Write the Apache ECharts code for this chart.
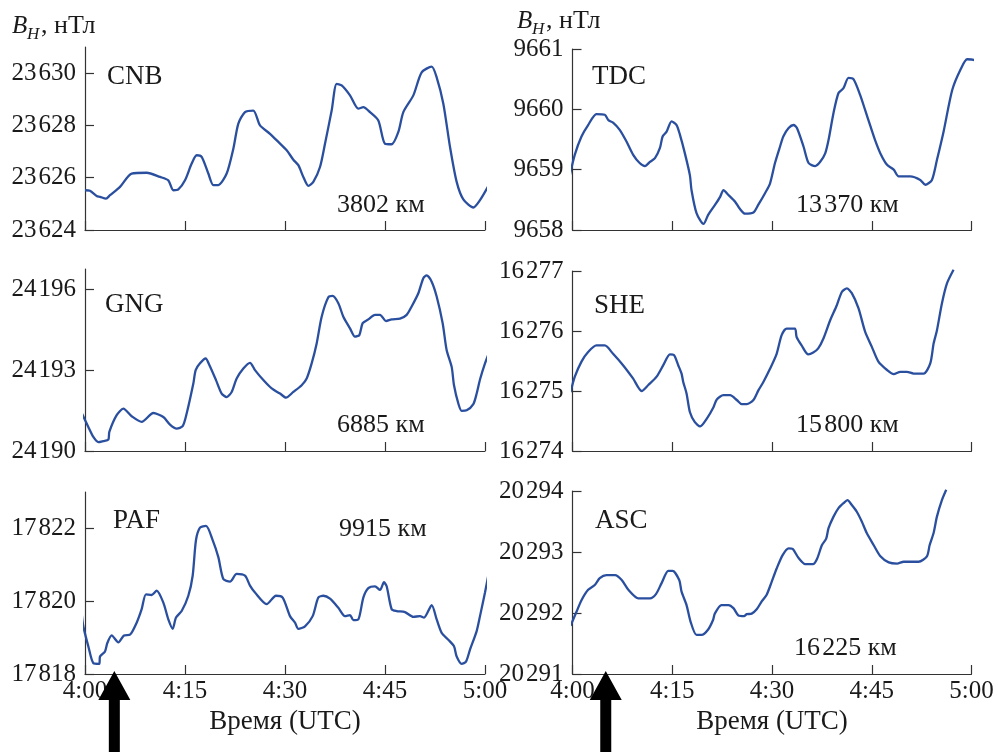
<!DOCTYPE html>
<html><head><meta charset="utf-8">
<script src="https://cdn.jsdelivr.net/npm/echarts@6/dist/echarts.min.js"></script>
<style>html,body{margin:0;padding:0;background:#fff}#c{width:998px;height:754px}</style>
</head><body><div id="c"></div>
<script>
// ---- data (time in minutes after 4:00 UTC, B_H in nT) ----
const xTickValues = [0, 15, 30, 45, 60];
const xTickLabels = ['4:00', '4:15', '4:30', '4:45', '5:00'];
const xAxisName = 'Время (UTC)';
const unitLabel = ', нТл';

const stationNames = ['CNB', 'TDC', 'GNG', 'SHE', 'PAF', 'ASC'];
const distLabels = ['3802 км', '13\u200A370 км', '6885 км', '15\u200A800 км', '9915 км', '16\u200A225 км'];
const arrowTimes = [4.4, 5.0];

const cnbTicks = [23624, 23626, 23628, 23630];
const tdcTicks = [9658, 9659, 9660, 9661];
const gngTicks = [24190, 24193, 24196];
const sheTicks = [16274, 16275, 16276, 16277];
const pafTicks = [17818, 17820, 17822];
const ascTicks = [20291, 20292, 20293, 20294];

const cnbT = [0,0.75,1.75,2.25,3.15,3.75,5.25,7,9.25,11.25,12.5,13.25,14,15,16,16.75,17.5,18.5,19.25,20,21.25,22.25,23,24,25.25,26.25,27.75,29,30.25,31.25,32,32.75,33.5,34.25,35.25,36,37,37.75,38.5,39.75,41,41.75,42.75,44,45,46,47,47.75,49.25,50.5,52,52.75,53.75,54.75,55.75,56.75,58.25,59.25,60.5];
const cnbV = [23625.52,23625.5,23625.3,23625.27,23625.2,23625.33,23625.65,23626.16,23626.19,23626.03,23625.9,23625.52,23625.55,23625.9,23626.54,23626.86,23626.8,23626.16,23625.72,23625.72,23626.16,23627.11,23628.07,23628.51,23628.57,23628.0,23627.68,23627.37,23627.05,23626.69,23626.48,23626.03,23625.69,23625.84,23626.41,23627.3,23628.57,23629.59,23629.53,23629.15,23628.64,23628.7,23628.51,23628.19,23627.3,23627.28,23627.75,23628.51,23629.15,23630.03,23630.25,23629.84,23628.83,23627.18,23625.84,23625.17,23624.86,23625.14,23625.68];

const tdcT = [-0.4,0.35,1.35,2.35,3.6,4.85,5.4,6.1,7.1,8.1,9.1,10.1,10.9,11.65,12.4,13.15,13.55,14.15,14.9,15.65,16.15,16.9,17.65,17.9,18.65,19.7,20.4,21.45,22.2,22.7,23.45,24.45,25.1,25.95,27.2,27.95,28.95,29.7,30.45,31.2,31.7,32.5,33.25,33.75,34.75,35.5,36.5,37.25,38,38.5,39.25,40,40.75,41.5,42.25,43.25,44,44.8,45.5,46.3,47.3,48.3,49.05,50.8,52.3,53.05,54.05,54.8,55.8,57.1,58.35,59.35,60.35,61.35,61.45,61.75];
const tdcV = [9658.91,9659.25,9659.55,9659.74,9659.92,9659.91,9659.82,9659.78,9659.66,9659.47,9659.25,9659.11,9659.06,9659.13,9659.19,9659.36,9659.55,9659.63,9659.8,9659.74,9659.58,9659.27,9658.91,9658.66,9658.28,9658.1,9658.25,9658.42,9658.55,9658.66,9658.58,9658.47,9658.36,9658.27,9658.29,9658.42,9658.61,9658.77,9659.11,9659.38,9659.55,9659.69,9659.74,9659.69,9659.38,9659.11,9659.06,9659.13,9659.27,9659.49,9659.94,9660.27,9660.35,9660.52,9660.5,9660.24,9659.99,9659.72,9659.49,9659.27,9659.08,9659.0,9658.89,9658.89,9658.83,9658.75,9658.83,9659.16,9659.63,9660.32,9660.66,9660.83,9660.82,9660.74,9660.63,9660.6];

const gngT = [-0.5,0.5,1.25,2,2.75,3.5,3.65,4.75,5.75,7,8.5,10.25,11.75,12.75,13.75,14.65,15.25,16.25,16.6,17.25,18.1,18.65,19.65,20.5,21.25,22,22.75,23.75,24.75,25.5,26.75,28,29.25,30.15,31.25,32.5,33.25,34,34.75,35.5,36.5,37.15,38,38.75,39.75,40.5,41.15,41.65,42.5,43.5,44.25,45.15,46,47.25,48.25,49,50,50.75,51.25,52,52.75,53.65,54.25,55,55.35,56,56.5,57.25,58.25,58.75,59.25,60,60.75];
const gngV = [24191.41,24190.89,24190.52,24190.33,24190.37,24190.42,24190.71,24191.33,24191.57,24191.29,24191.08,24191.41,24191.26,24190.98,24190.83,24190.92,24191.39,24192.5,24193.0,24193.25,24193.43,24193.19,24192.63,24192.13,24192.0,24192.19,24192.69,24193.06,24193.27,24193.0,24192.63,24192.32,24192.13,24191.98,24192.19,24192.44,24192.69,24193.25,24193.99,24194.98,24195.7,24195.75,24195.48,24194.98,24194.55,24194.24,24194.3,24194.74,24194.88,24195.05,24195.05,24194.82,24194.88,24194.91,24195.05,24195.36,24195.85,24196.41,24196.51,24196.28,24195.73,24194.74,24193.74,24193.12,24192.44,24191.76,24191.49,24191.51,24191.74,24192.13,24192.65,24193.25,24193.74];

const sheT = [-0.3,0.35,1.35,2.35,3.6,4.85,6.1,7.6,9.1,10.4,11.4,12.65,13.65,14.65,15.25,15.9,16.4,16.65,17.15,17.65,18.4,19.2,20.2,21.2,21.7,22.7,23.7,24.7,25.45,26.2,27.2,27.95,28.7,29.7,30.7,31.45,32.2,33.45,33.7,34.45,35.45,36.2,36.95,37.75,38.75,39.75,40.5,41.25,42,43,44,45,46,47.3,48.3,49.3,50.3,51.3,52.8,53.8,54.3,54.8,55.55,56.3,57.3];
const sheV = [16274.98,16275.24,16275.49,16275.65,16275.76,16275.76,16275.62,16275.43,16275.21,16275.0,16275.1,16275.24,16275.43,16275.61,16275.6,16275.43,16275.29,16275.15,16274.96,16274.65,16274.48,16274.41,16274.54,16274.73,16274.86,16274.93,16274.93,16274.85,16274.78,16274.78,16274.85,16275.01,16275.15,16275.37,16275.62,16275.93,16276.04,16276.04,16275.9,16275.76,16275.61,16275.64,16275.71,16275.88,16276.18,16276.43,16276.65,16276.71,16276.63,16276.38,16275.99,16275.74,16275.49,16275.35,16275.28,16275.32,16275.32,16275.29,16275.29,16275.46,16275.79,16276.01,16276.46,16276.79,16277.02];

const pafT = [-0.5,-0.25,0.5,1.25,2.15,2.25,3,3.35,4,5,5.85,6.75,7.75,8.5,9.15,10,10.75,11.75,12.5,13.15,13.65,14.5,15.5,16.15,16.65,17.25,18.15,19.15,20,20.75,21.75,22.75,24,24.75,25.5,27.25,28.65,29.65,30.75,31.5,32,33,34.15,35,35.75,36.75,38,39,39.75,40.25,41,41.75,42.5,43.5,44.25,44.85,45.25,46,46.75,48,49.25,50.25,50.85,52,52.75,53.5,54.5,55.35,55.75,56.5,57.15,57.75,58.75,59.25,60,60.75];
const pafV = [17819.67,17819.31,17818.76,17818.3,17818.28,17818.48,17818.62,17818.85,17819.06,17818.87,17819.06,17819.08,17819.41,17819.78,17820.19,17820.17,17820.29,17819.96,17819.5,17819.24,17819.55,17819.73,17820.15,17820.7,17821.68,17822.02,17822.07,17821.68,17821.21,17820.61,17820.54,17820.75,17820.7,17820.43,17820.24,17819.92,17820.15,17820.1,17819.59,17819.41,17819.24,17819.31,17819.59,17820.1,17820.15,17820.07,17819.82,17819.59,17819.62,17819.48,17819.5,17820.1,17820.36,17820.41,17820.31,17820.52,17820.41,17819.78,17819.73,17819.7,17819.57,17819.59,17819.55,17819.89,17819.5,17819.13,17818.94,17818.76,17818.48,17818.28,17818.34,17818.67,17819.18,17819.59,17820.24,17820.96];

const ascT = [-0.3,0.6,1.35,2.35,3.35,4.1,5.1,6.4,7.4,8.4,9.9,11.65,12.55,13.4,14.4,15.05,16.05,16.4,17.15,17.75,18.65,19.4,20.4,21.15,21.4,22.4,23.45,24.2,24.95,25.8,26.2,26.95,27.7,28.45,29.2,29.95,30.7,31.6,32.5,33.1,34,35,36.15,36.75,37.5,38.15,38.5,39.25,40,40.75,41.35,42,42.75,43.5,44.25,45.3,46.3,47.55,48.8,49.8,52.05,53.3,53.7,54.3,54.8,55.55,56.2];
const ascV = [20291.79,20292.02,20292.21,20292.38,20292.46,20292.57,20292.62,20292.62,20292.54,20292.38,20292.24,20292.24,20292.31,20292.49,20292.69,20292.69,20292.54,20292.35,20292.13,20291.86,20291.64,20291.64,20291.73,20291.89,20291.99,20292.13,20292.13,20292.08,20291.96,20291.95,20291.98,20291.99,20292.06,20292.19,20292.3,20292.51,20292.73,20292.95,20293.06,20293.05,20292.9,20292.8,20292.8,20292.88,20293.11,20293.22,20293.39,20293.58,20293.72,20293.8,20293.85,20293.77,20293.66,20293.5,20293.31,20293.11,20292.93,20292.83,20292.81,20292.84,20292.84,20292.93,20293.11,20293.31,20293.58,20293.85,20294.02];

// ---- layout / styling ----
const FONT = '"Liberation Serif", "Times New Roman", serif';
const LINE = '#2a4f9f';
const AXIS = '#333333';
const TEXT = '#1a1a1a';

const panels = [
  {t: cnbT, v: cnbV, ticks: cnbTicks, max: 23631,    left: 85,    width: 400, top: 47,  height: 183, nameXY: [107, 77],  distXY: [337, 205]},
  {t: tdcT, v: tdcV, ticks: tdcTicks, max: 9661,     left: 572.5, width: 399, top: 49,  height: 181, nameXY: [592, 77],  distXY: [796, 205]},
  {t: gngT, v: gngV, ticks: gngTicks, max: 24196.75, left: 85,    width: 400, top: 269, height: 182, nameXY: [105, 305], distXY: [337, 425]},
  {t: sheT, v: sheV, ticks: sheTicks, max: 16277,    left: 572.5, width: 399, top: 271, height: 180, nameXY: [594, 306], distXY: [796, 425]},
  {t: pafT, v: pafV, ticks: pafTicks, max: 17823,    left: 85,    width: 400, top: 492, height: 182, nameXY: [113, 521], distXY: [339, 529]},
  {t: ascT, v: ascV, ticks: ascTicks, max: 20294,    left: 572.5, width: 399, top: 491, height: 183, nameXY: [595, 521], distXY: [794, 648]}
];

function fmtNum(n) {
  let s = String(n);
  if (s.length > 4) s = s.slice(0, s.length - 3) + '\u200A' + s.slice(s.length - 3);
  return s;
}

const grids = [], xAxes = [], yAxes = [], series = [];
panels.forEach((p, i) => {
  const bottomRow = i >= 4;
  grids.push({left: p.left, top: p.top, width: p.width, height: p.height, containLabel: false});
  xAxes.push({
    type: 'value', gridIndex: i, min: 0, max: 60,
    axisLine: {show: true, onZero: false, lineStyle: {color: AXIS, width: 1.2}},
    axisTick: {show: true, inside: true, length: 9, customValues: xTickValues, lineStyle: {color: AXIS, width: 1.2}},
    axisLabel: {show: bottomRow, customValues: xTickValues, margin: 5,
      formatter: v => xTickLabels[xTickValues.indexOf(v)] || '',
      fontFamily: FONT, fontSize: 25, color: TEXT, showMinLabel: true, showMaxLabel: true},
    splitLine: {show: false},
    name: bottomRow ? xAxisName : '', nameLocation: 'middle', nameGap: 34,
    nameTextStyle: {fontFamily: FONT, fontSize: 27, color: TEXT}
  });
  yAxes.push({
    type: 'value', gridIndex: i, min: p.ticks[0], max: p.max,
    axisLine: {show: true, lineStyle: {color: AXIS, width: 1.2}},
    axisTick: {show: true, inside: true, length: 9, customValues: p.ticks, lineStyle: {color: AXIS, width: 1.2}},
    axisLabel: {show: true, customValues: p.ticks, margin: 9, formatter: v => fmtNum(v),
      fontFamily: FONT, fontSize: 25, color: TEXT, showMinLabel: true, showMaxLabel: true},
    splitLine: {show: false}
  });
  series.push({
    type: 'line', xAxisIndex: i, yAxisIndex: i, clip: false,
    data: p.t.map((t, k) => [t, p.v[k]]),
    showSymbol: false, smooth: 0.25,
    lineStyle: {color: LINE, width: 2.3}
  });
});

const chart = echarts.init(document.getElementById('c'), null, {renderer: 'canvas'});
chart.setOption({
  animation: false,
  backgroundColor: '#ffffff',
  grid: grids, xAxis: xAxes, yAxis: yAxes, series: series
});

const graphics = [];
// unit labels
[[12, 26], [517, 21]].forEach(([x, y]) => {
  graphics.push({type: 'text', x: x, y: y, style: {text: 'B', font: 'italic 25px ' + FONT, fill: TEXT, verticalAlign: 'middle'}});
  graphics.push({type: 'text', x: x + 15, y: y + 9, style: {text: 'H', font: 'italic 17px ' + FONT, fill: TEXT, verticalAlign: 'middle'}});
  graphics.push({type: 'text', x: x + 29, y: y, style: {text: unitLabel, font: '26px ' + FONT, fill: TEXT, verticalAlign: 'middle'}});
});
panels.forEach((p, i) => {
  graphics.push({type: 'text', x: p.nameXY[0], y: p.nameXY[1], style: {text: stationNames[i], font: '27px ' + FONT, fill: TEXT, verticalAlign: 'middle'}});
  graphics.push({type: 'text', x: p.distXY[0], y: p.distXY[1], style: {text: distLabels[i], font: '26px ' + FONT, fill: TEXT, verticalAlign: 'middle'}});
});
// arrows below the bottom panels
arrowTimes.forEach((t, k) => {
  const idx = 4 + k;
  const x = chart.convertToPixel({xAxisIndex: idx}, t);
  const y0 = chart.convertToPixel({yAxisIndex: idx}, panels[idx].ticks[0]);
  const tip = y0 - 3, base = y0 + 26, bot = 752;
  graphics.push({type: 'polygon', z: 100, shape: {points: [
    [x, tip], [x + 16, base], [x + 5.5, base], [x + 5.5, bot], [x - 5.5, bot], [x - 5.5, base], [x - 16, base]
  ]}, style: {fill: '#000000'}});
});
chart.setOption({graphic: graphics});
</script>
</body></html>
